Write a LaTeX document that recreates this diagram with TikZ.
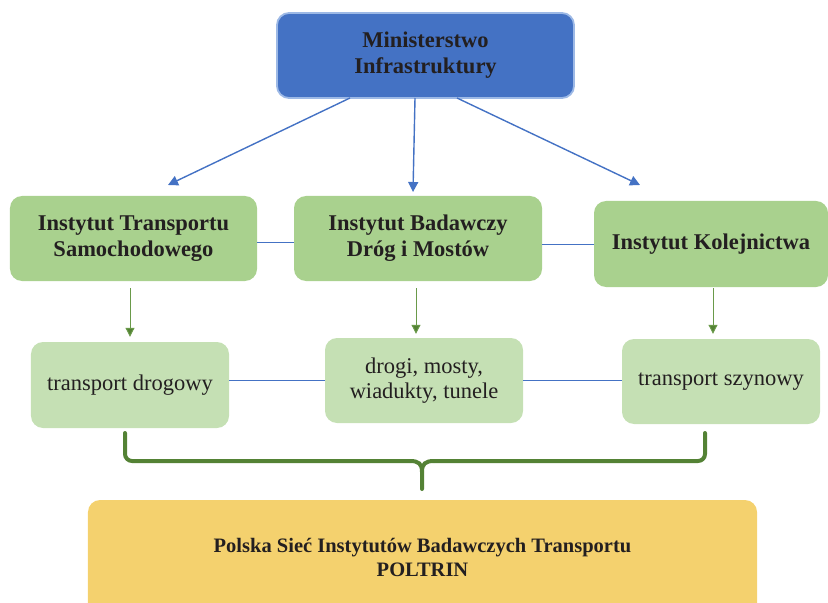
\documentclass[tikz,border=0pt]{standalone}
\usepackage{fontspec}
\setmainfont{Liberation Serif}
\usetikzlibrary{arrows.meta,calc}
\definecolor{txt}{HTML}{231F20}
\definecolor{bluefill}{HTML}{4472C4}
\definecolor{blueedge}{HTML}{9DB9E6}
\definecolor{midgreen}{HTML}{A9D18E}
\definecolor{lightgreen}{HTML}{C5E0B4}
\definecolor{darkgreen}{HTML}{548235}
\definecolor{arrowgreen}{HTML}{6A9A4A}
\definecolor{yellowfill}{HTML}{F4D16E}
\tikzset{
  box/.style={rectangle, rounded corners=12bp, align=center, text=txt, inner sep=0pt},
  topbox/.style={box, fill=bluefill, draw=blueedge, line width=1.8bp, minimum width=297bp, minimum height=85bp,
    font=\fontsize{22.5bp}{26bp}\selectfont\bfseries},
  instbox/.style={box, fill=midgreen, minimum height=85bp,
    font=\fontsize{22.5bp}{26bp}\selectfont\bfseries},
  areabox/.style={box, fill=lightgreen, minimum width=198bp, minimum height=85bp,
    font=\fontsize{22.5bp}{25bp}\selectfont},
  netbox/.style={box, fill=yellowfill, minimum width=669bp, minimum height=115bp,
    font=\fontsize{20.5bp}{24bp}\selectfont\bfseries},
  bluearrow/.style={draw=bluefill, line width=1.4bp, -{Triangle[length=10bp,width=10bp]}},
  bluelink/.style={draw=bluefill, line width=0.8bp},
  greenarrow/.style={draw=arrowgreen, line width=1bp, -{Triangle[length=9bp,width=9bp,fill=darkgreen]}, color=darkgreen},
  bracepath/.style={draw=darkgreen, line width=4bp, line cap=round}
}
\begin{document}
\begin{tikzpicture}[x=1bp,y=-1bp]
\useasboundingbox (0,0) rectangle (828,603);
\clip (0,0) rectangle (828,603);

\node[topbox] (min) at (425.5,55.5) {Ministerstwo\\Infrastruktury};

\node[instbox, minimum width=247bp] (its) at (133.5,238.5) {Instytut Transportu\\Samochodowego};
\node[instbox, minimum width=248bp] (ibd) at (418,238.5) {Instytut Badawczy\\Dróg i Mostów};
\node[instbox, minimum width=234bp, minimum height=86bp] (ik) at (711,244) {Instytut Kolejnictwa};

\node[areabox, minimum height=86bp] (td) at (130,385) {transport drogowy};
\node[areabox] (dr) at (424,380.5) {drogi, mosty,\\wiadukty, tunele};
\node[areabox] (ts) at (721,381.5) {transport szynowy};

\node[netbox] (pol) at (422.5,557.5) {Polska Sieć Instytutów Badawczych Transportu\\POLTRIN};

% blue arrows from ministry
\coordinate (a1s) at (350,98);
\coordinate (a2s) at (415,98);
\coordinate (a3s) at (457,98);
\coordinate (a1e) at (168,185);
\coordinate (a2e) at (413,192);
\coordinate (a3e) at (640,185);
\draw[bluearrow] (a1s) -- (a1e);
\draw[bluearrow] (a2s) -- (a2e);
\draw[bluearrow] (a3s) -- (a3e);

% blue links
\draw[bluelink] ($(its.east)+(0,3.5)$) -- ($(ibd.west)+(0,3.5)$);
\draw[bluelink] (ibd.east |- ik.west) -- (ik.west);
\draw[bluelink] (td.east |- dr.west) -- (dr.west);
\draw[bluelink] (dr.east) -- (ts.west |- dr.east);

% green arrows
\draw[greenarrow, draw=arrowgreen, shorten <=7bp, shorten >=5bp] (its.south -| td.north) -- (td.north);
\draw[greenarrow, draw=arrowgreen, shorten <=7bp, shorten >=4bp] (ibd.south -| 416,0) -- (dr.north -| 416,0);
\draw[greenarrow, draw=arrowgreen, shorten <=1bp, shorten >=5bp] (ik.south -| 713,0) -- (ts.north -| 713,0);

% brace
\coordinate (bl) at (125,433);
\coordinate (br) at (705,433);
\coordinate (bt) at (422,489);
\draw[bracepath, rounded corners=7bp] (bl) -- (125,461) -- (410,461);
\draw[bracepath] (410,461) .. controls (419,461) and (422,464) .. (422,472) -- (bt);
\draw[bracepath, rounded corners=7bp] (br) -- (705,461) -- (434,461);
\draw[bracepath] (434,461) .. controls (425,461) and (422,464) .. (422,472);
\end{tikzpicture}
\end{document}
